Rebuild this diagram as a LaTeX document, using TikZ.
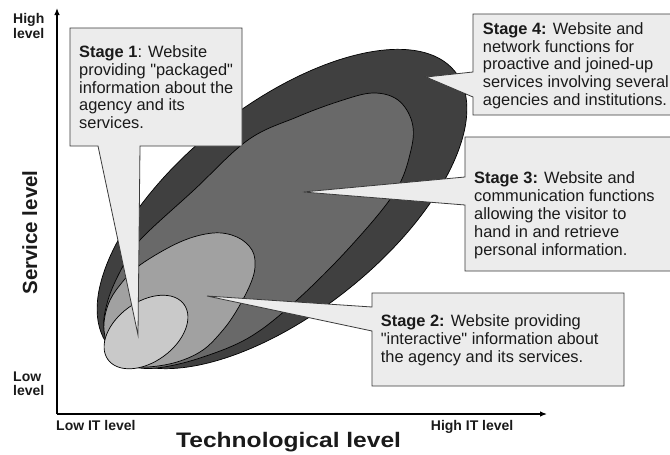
\documentclass[tikz,border=0pt]{standalone}
\usepackage{fontspec}
\setmainfont{Liberation Sans}[Ligatures=TeXOff]
\usepackage{graphicx}
\usetikzlibrary{arrows.meta}
\definecolor{levfour}{HTML}{404040}
\definecolor{levthree}{HTML}{696969}
\definecolor{levtwo}{HTML}{A1A1A1}
\definecolor{levone}{HTML}{C9C9C9}
\definecolor{boxfill}{HTML}{ECECEC}
\definecolor{boxline}{HTML}{3A3A3A}
\definecolor{txtcol}{HTML}{1A1A1A}
\begin{document}
\begin{tikzpicture}[x=1pt,y=-1pt,
  axisline/.style={line width=1.2pt, -{Latex[length=7pt,width=5.5pt]}},
  blob/.style={draw=black, line width=0.7pt},
  callout/.style={fill=boxfill, draw=boxline, line width=0.8pt, line join=miter},
  body/.style={font=\fontsize{16.4}{17.6}\selectfont, align=left, anchor=base west, inner sep=0pt, text=txtcol},
  axlab/.style={font=\bfseries\fontsize{14}{15}\selectfont, align=left, anchor=base west, inner sep=0pt, text=txtcol}]
\clip (0,0) rectangle (670,455);
\fill[white] (0,0) rectangle (670,455);

% nested stage areas
\draw[blob, fill=levfour, shift={(282,209)}, rotate=38.4] (0,0) ellipse [x radius=221, y radius=104];
\draw[blob, fill=levthree] plot[smooth cycle, tension=0.6] coordinates {
  (116,356) (104,330) (108,300) (122,268) (140,240) (194,190) (248,140) (297,117)
  (340,101) (373,93) (398,100) (412,122) (411,150) (395,192) (350,247) (297,300)
  (250,337) (200,358) (157,368) (130,366)};
\draw[blob, fill=levtwo] plot[smooth cycle, tension=0.6] coordinates {
  (112,355) (104,330) (108,305) (120,285) (140,265) (180,242) (213,233) (237,237)
  (252,250) (255,267) (250,285) (237,310) (223,330) (203,350) (177,362) (147,367) (125,364)};
\draw[blob, fill=levone, shift={(146,332)}, rotate=36] (0,0) ellipse [x radius=47, y radius=30];

% callouts
\draw[callout] (70,28) -- (242,28) -- (242,146) -- (140,146) -- (138,335) -- (98,146) -- (70,146) -- cycle;
\draw[callout] (473,14) -- (680,14) -- (680,115) -- (473,115) -- (473,97) -- (426,77) -- (473,72) -- cycle;
\draw[callout] (465,137) -- (680,137) -- (680,271) -- (465,271) -- (465,205) -- (303,192) -- (465,177) -- cycle;
\draw[callout] (372,293) -- (624,293) -- (624,386) -- (372,386) -- (372,331) -- (207,296) -- (372,307) -- cycle;

% texts (anchored at the baseline of their last line)
\node[body] (s1) at (79,128.3) {\textbf{Stage 1}: Website\\providing "packaged"\\information about the\\agency and its\\services.};
\node[body] (s4) at (482.7,105) {\textbf{Stage 4:} Website and\\network functions for\\proactive and joined-up\\services involving several\\agencies and institutions.};
\node[body, font=\fontsize{16.4}{18.2}\selectfont] (s3) at (474,255.8) {\textbf{Stage 3:} Website and\\communication functions\\allowing the visitor to\\hand in and retrieve\\personal information.};
\node[body, font=\fontsize{16.4}{17.8}\selectfont] (s2) at (380.7,362.3) {\textbf{Stage 2:} Website providing\\"interactive" information about\\the agency and its services.};

% axes
\coordinate (O) at (57,414);
\coordinate (ytop) at (57,8);
\coordinate (xend) at (547,414);
\draw[axisline] (O) -- (ytop);
\draw[axisline] (O) -- (xend);

\node[axlab] (hl) at (13,38.3) {High\\level};
\node[axlab, font=\bfseries\fontsize{14}{14}\selectfont] (ll) at (13,395) {Low\\level};
\node[axlab] (lit) at (56,430) {Low IT level};
\node[axlab] (hit) at (430.7,430) {High IT level};
\node[rotate=90, anchor=base, inner sep=0pt, text=txtcol, font=\bfseries\fontsize{20.5}{22}\selectfont] (sl) at (37,232.5) {Service level};
\node[anchor=base west, inner sep=0pt, text=txtcol, font=\bfseries\fontsize{21}{22}\selectfont] (tl) at (176,447.7) {\scalebox{1.17}[1]{Technological level}};
\end{tikzpicture}
\end{document}
